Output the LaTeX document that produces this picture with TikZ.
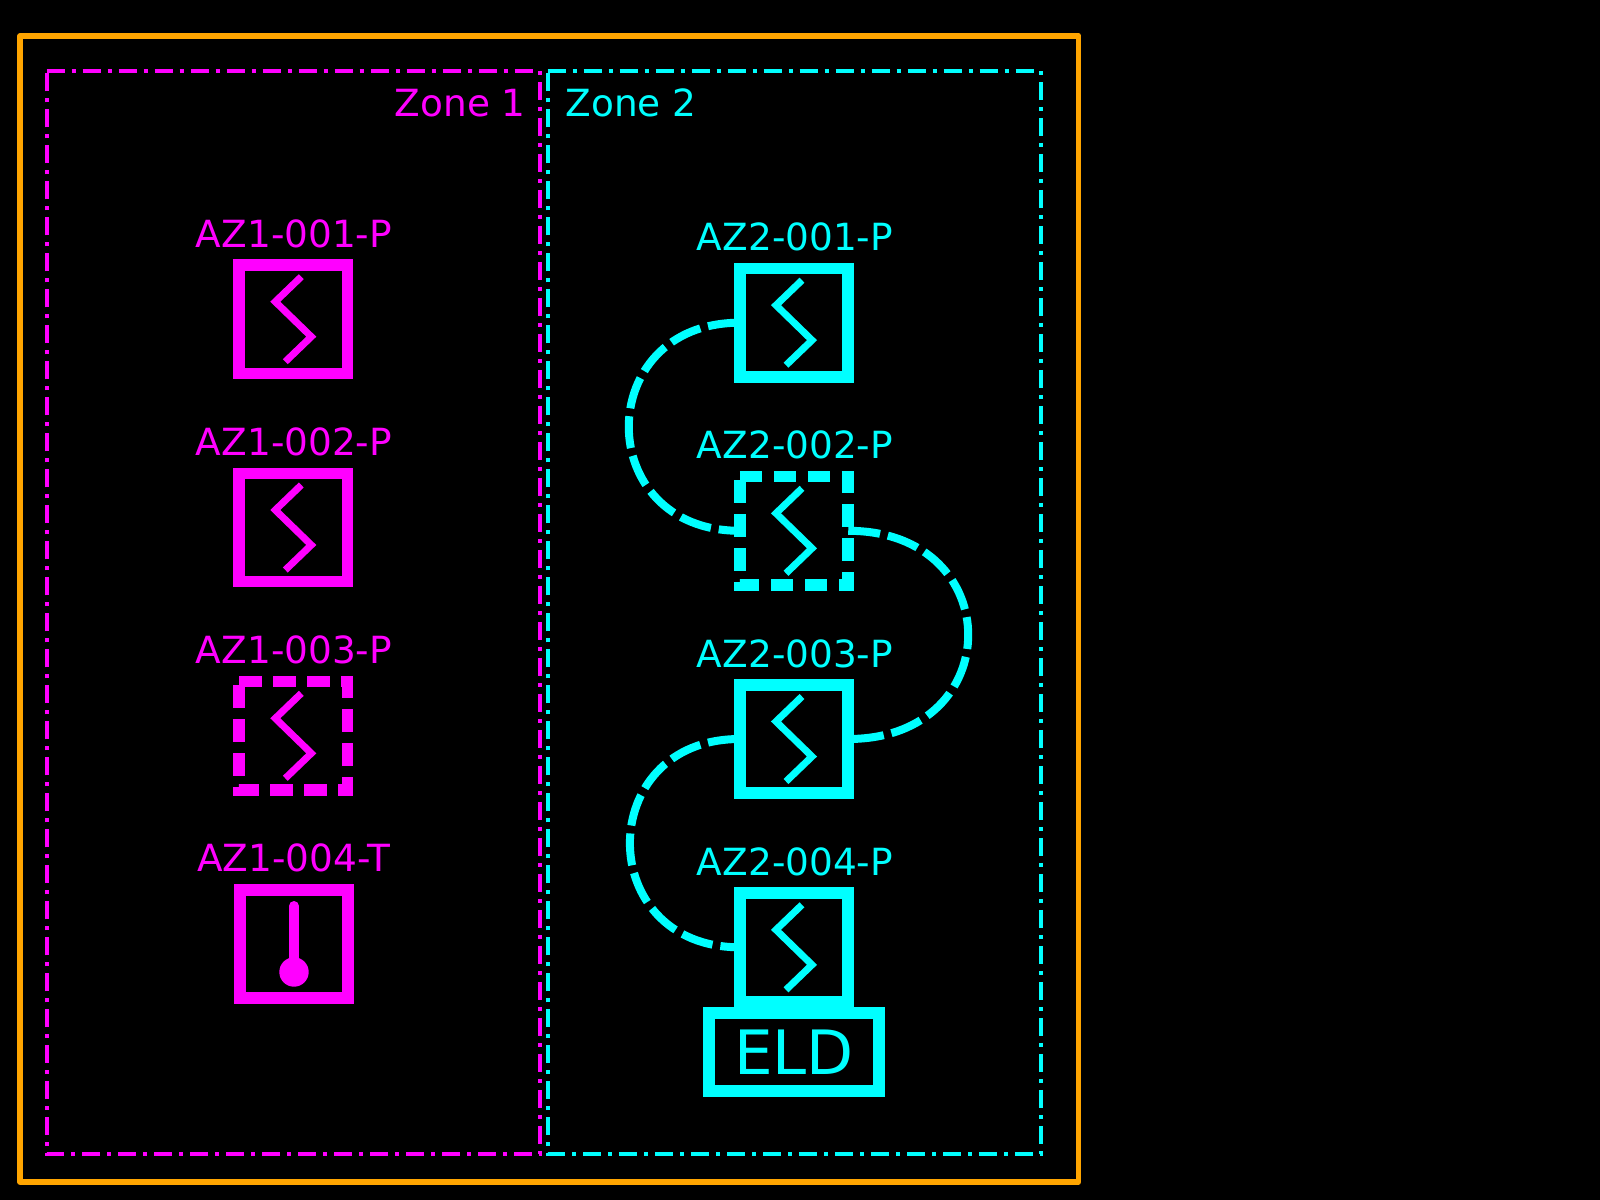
\documentclass[tikz,border=0pt]{standalone}
\usepackage{fontspec}
\setmainfont{DejaVu Sans}
\usetikzlibrary{calc,positioning}
\definecolor{rimorange}{HTML}{FFA500}
\definecolor{zonemagenta}{HTML}{FF00FF}
\definecolor{zonecyan}{HTML}{00FFFF}

% the zigzag inside a valve box
\newcommand{\valvemark}[2]{%
    \draw[markline,#1,shift={(#2)}] (8,-42.5) -- (-18,-17.5) -- (18,17.5) -- (-8,42.5);
}
% dashed outline of a valve box, clockwise from the top left
\newcommand{\valvedashed}[2]{%
    \draw[dashline,#1] (#2.north west) -- (#2.north east) -- (#2.south east) -- (#2.south west) -- cycle;
}

\begin{document}
\begin{tikzpicture}[x=0.02cm,y=-0.02cm,
    rim/.style={rimorange,line width=0.114cm,line join=round},
    zoneline/.style={line width=0.08cm,dash pattern=on 0.36cm off 0.14cm on 0.08cm off 0.14cm},
    zonetext/.style={anchor=base,inner sep=0,font=\fontsize{21.3}{25}\selectfont},
    tagtext/.style={anchor=base,inner sep=0,font=\fontsize{21.3}{25}\selectfont},
    valvebox/.style={rectangle,inner sep=0,outer sep=0,minimum size=2.17cm},
    valvesolid/.style={valvebox,draw,line width=0.23cm},
    tempbox/.style={rectangle,draw,inner sep=0,outer sep=0,minimum size=2.16cm,line width=0.24cm},
    eldbox/.style={rectangle,draw,inner sep=0,outer sep=0,minimum width=3.386cm,minimum height=1.56cm,line width=0.24cm,font=\fontsize{34.8}{40}\selectfont},
    markline/.style={line width=0.14cm,miter limit=10},
    dashline/.style={line width=0.23cm,dash pattern=on 0.454cm off 0.226cm},
    linkline/.style={zonecyan,line width=0.16cm,dash pattern=on 0.64cm off 0.16cm}]
        \fill[black] (0,0) rectangle (1600,1200);

        \coordinate (1) at (20,36);
        \coordinate (2) at (1078.5,36);
        \coordinate (3) at (1078.5,1181.7);
        \coordinate (4) at (20,1181.7);
        \draw[rim] (1)--(2)--(3)--(4)-- cycle;

        % zone 1
        \coordinate (5) at (46.7,71);
        \coordinate (6) at (539.6,71);
        \coordinate (7) at (539.6,1154);
        \coordinate (8) at (46.7,1154);
        \draw[zoneline,zonemagenta] (5)--(6)--(7)--(8)-- cycle;
        \node[zonetext,zonemagenta] (zone1) at (460.3,116) {Zone 1};

        \node[valvesolid,zonemagenta] (az1001) at (293.3,319.2) {};
        \node[valvesolid,zonemagenta] (az1002) at (293.3,527.5) {};
        \node[valvebox] (az1003) at (293.3,735.8) {};
        \node[tempbox,zonemagenta] (az1004) at (294,944) {};
        \valvedashed{zonemagenta}{az1003}
        \valvemark{zonemagenta}{az1001}
        \valvemark{zonemagenta}{az1002}
        \valvemark{zonemagenta}{az1003}
        \node[tagtext,zonemagenta] (tag1001) at (294,247.3) {AZ1-001-P};
        \node[tagtext,zonemagenta] (tag1002) at (294,455.5) {AZ1-002-P};
        \node[tagtext,zonemagenta] (tag1003) at (294,663.7) {AZ1-003-P};
        \node[tagtext,zonemagenta] (tag1004) at (293.8,871.3) {AZ1-004-T};
        \coordinate (bulb) at (294,972);
        \draw[zonemagenta,line width=0.2cm,line cap=round] (294,906) -- (bulb);
        \fill[zonemagenta] (bulb) circle (14.7);

        % zone 2
        \coordinate (9) at (547.6,71);
        \coordinate (10) at (1040.5,71);
        \coordinate (11) at (1040.5,1154);
        \coordinate (12) at (547.6,1154);
        \draw[zoneline,zonecyan] (9)--(10)--(11)--(12)-- cycle;
        \node[zonetext,zonecyan] (zone2) at (631,116) {Zone 2};

        \node[valvesolid,zonecyan] (az2001) at (794,322.7) {};
        \node[valvebox] (az2002) at (794,530.8) {};
        \node[valvesolid,zonecyan] (az2003) at (794,739) {};
        \node[valvesolid,zonecyan] (az2004) at (794,947.3) {};
        \node[eldbox,zonecyan] (eld) at (794,1052.3) {ELD};
        \valvedashed{zonecyan}{az2002}
        \valvemark{zonecyan}{az2001}
        \valvemark{zonecyan}{az2002}
        \valvemark{zonecyan}{az2003}
        \valvemark{zonecyan}{az2004}
        \node[tagtext,zonecyan] (tag2001) at (795,250.4) {AZ2-001-P};
        \node[tagtext,zonecyan] (tag2002) at (795,458.6) {AZ2-002-P};
        \node[tagtext,zonecyan] (tag2003) at (795,667) {AZ2-003-P};
        \node[tagtext,zonecyan] (tag2004) at (795,875.2) {AZ2-004-P};

        \draw[linkline] (az2001.west) to[out=180,in=180,distance=2.96cm] (az2002.west);
        \draw[linkline] (az2002.east) to[out=0,in=0,distance=3.2cm] (az2003.east);
        \draw[linkline] (az2003.west) to[out=180,in=180,distance=2.93cm] (az2004.west);
    \end{tikzpicture}
\end{document}
